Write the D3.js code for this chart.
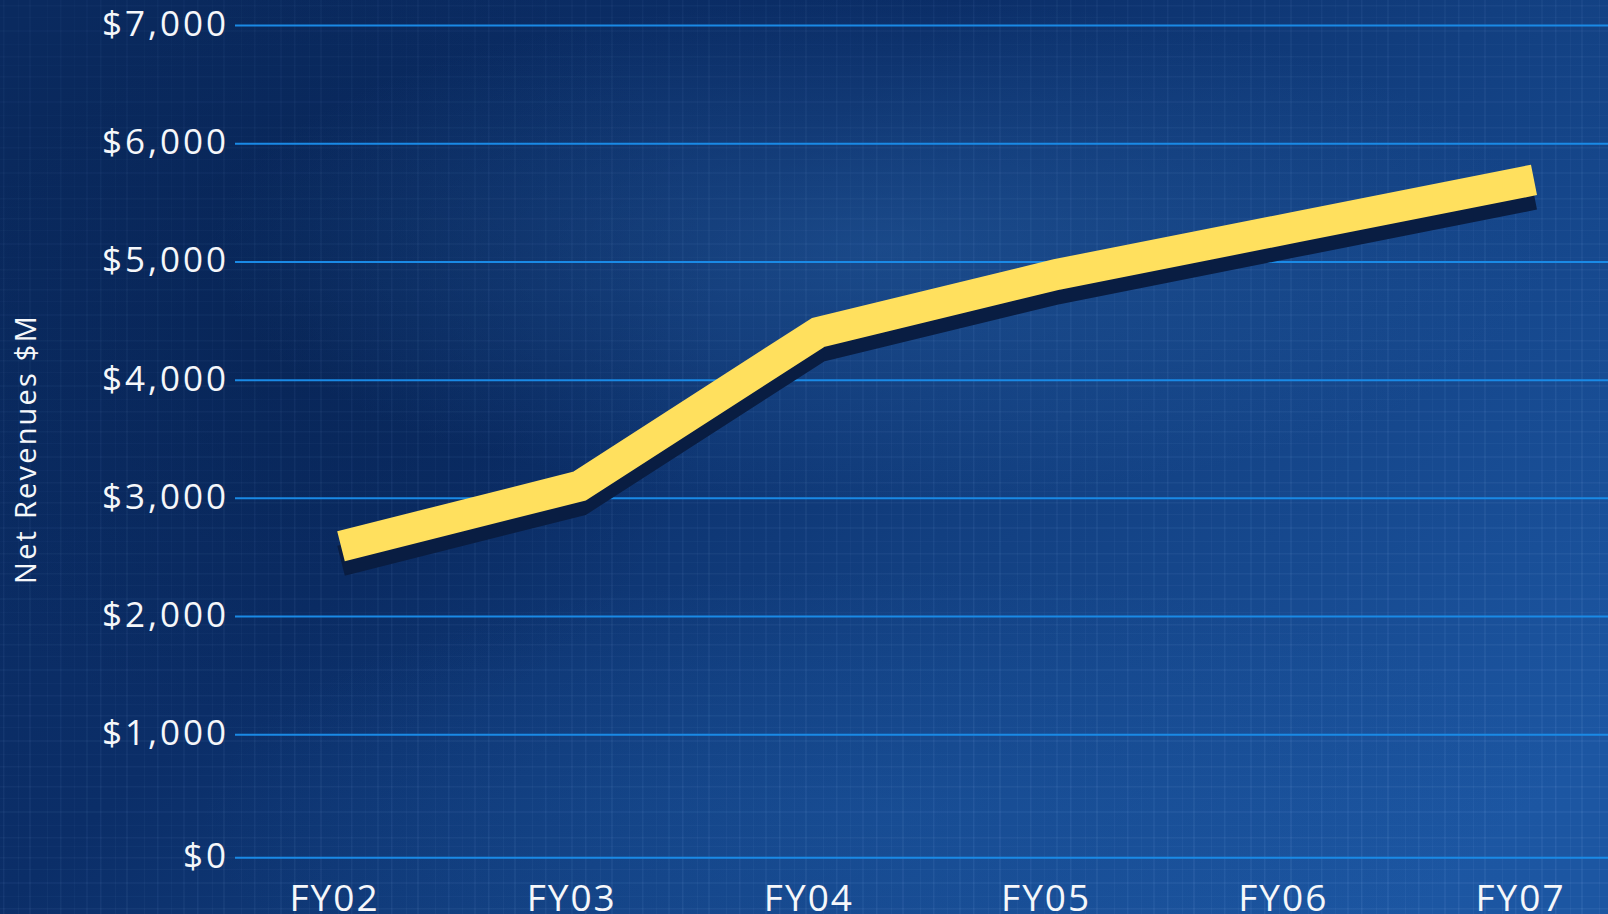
<!DOCTYPE html>
<html>
<head>
<meta charset="utf-8">
<script src="https://cdn.jsdelivr.net/npm/d3@7"></script>
<style>
  html, body { margin: 0; padding: 0; background: #0b2c63; overflow: hidden; }
  svg { display: block; }
</style>
</head>
<body>
<svg id="chart" width="1608" height="914"></svg>
<script>
// ---- data ----
const categories = ["FY02", "FY03", "FY04", "FY05", "FY06", "FY07"];
const revenues = [2590, 3100, 4400, 4890, 5290, 5690];
const yTicks = [0, 1000, 2000, 3000, 4000, 5000, 6000, 7000];
const yTickLabels = ["$0", "$1,000", "$2,000", "$3,000", "$4,000", "$5,000", "$6,000", "$7,000"];
const yTitle = "Net Revenues $M";

// ---- layout ----
const W = 1608, H = 914;
const svg = d3.select("#chart");
const defs = svg.append("defs");

// background gradients
const bgLin = defs.append("linearGradient").attr("id", "bgLin")
  .attr("x1", "0").attr("y1", "0.2").attr("x2", "1").attr("y2", "0.8");
[["0", "#0a2a5f"], ["0.35", "#0b2e68"], ["0.6", "#123f80"], ["1", "#1c56a2"]]
  .forEach(([o, c]) => bgLin.append("stop").attr("offset", o).attr("stop-color", c));

const glow = defs.append("radialGradient").attr("id", "glow")
  .attr("gradientUnits", "userSpaceOnUse")
  .attr("cx", 880).attr("cy", 250).attr("r", 420)
  .attr("gradientTransform", "translate(880,250) scale(1.6,0.6) translate(-880,-250)");
glow.append("stop").attr("offset", "0").attr("stop-color", "#2a64a8").attr("stop-opacity", 0.45);
glow.append("stop").attr("offset", "1").attr("stop-color", "#2a64a8").attr("stop-opacity", 0);

const dark = defs.append("radialGradient").attr("id", "dark")
  .attr("gradientUnits", "userSpaceOnUse")
  .attr("cx", 300).attr("cy", 330).attr("r", 420);
dark.append("stop").attr("offset", "0").attr("stop-color", "#06204d").attr("stop-opacity", 0.55);
dark.append("stop").attr("offset", "1").attr("stop-color", "#06204d").attr("stop-opacity", 0);

const botGlow = defs.append("radialGradient").attr("id", "botGlow")
  .attr("gradientUnits", "userSpaceOnUse")
  .attr("cx", 900).attr("cy", 820).attr("r", 500)
  .attr("gradientTransform", "translate(900,820) scale(1.4,0.5) translate(-900,-820)");
botGlow.append("stop").attr("offset", "0").attr("stop-color", "#1d5aa6").attr("stop-opacity", 0.35);
botGlow.append("stop").attr("offset", "1").attr("stop-color", "#1d5aa6").attr("stop-opacity", 0);

// subtle grid texture
const tex = defs.append("pattern").attr("id", "tex")
  .attr("patternUnits", "userSpaceOnUse").attr("width", 97).attr("height", 71);
const vLines = [[3, 1.5, 0.10], [18, 1, 0.06], [29, 2, 0.08], [47, 1, 0.06], [60, 1.5, 0.09], [74, 1, 0.05], [86, 2, 0.07]];
const hLines = [[5, 1.5, 0.08], [17, 1, 0.06], [30, 2, 0.07], [44, 1, 0.05], [56, 1.5, 0.08], [65, 1, 0.05]];
vLines.forEach(([x, w, o]) => tex.append("rect").attr("x", x).attr("y", 0).attr("width", w).attr("height", 71).attr("fill", "#9fc4ff").attr("opacity", o));
hLines.forEach(([y, h, o]) => tex.append("rect").attr("x", 0).attr("y", y).attr("width", 97).attr("height", h).attr("fill", "#9fc4ff").attr("opacity", o));

const texMaskGrad = defs.append("linearGradient").attr("id", "texMaskGrad")
  .attr("x1", "0").attr("y1", "0").attr("x2", "1").attr("y2", "1");
texMaskGrad.append("stop").attr("offset", "0").attr("stop-color", "#fff").attr("stop-opacity", 0.35);
texMaskGrad.append("stop").attr("offset", "0.5").attr("stop-color", "#fff").attr("stop-opacity", 0.65);
texMaskGrad.append("stop").attr("offset", "1").attr("stop-color", "#fff").attr("stop-opacity", 1);
const texMask = defs.append("mask").attr("id", "texMask");
texMask.append("rect").attr("width", W).attr("height", H).attr("fill", "url(#texMaskGrad)");

// dithered shadow pattern
const sh = defs.append("pattern").attr("id", "shadowPat")
  .attr("patternUnits", "userSpaceOnUse").attr("width", 2).attr("height", 2);
sh.append("rect").attr("width", 2).attr("height", 2).attr("fill", "#0f2d62");
sh.append("rect").attr("x", 0).attr("y", 0).attr("width", 1).attr("height", 1).attr("fill", "#030d22");
sh.append("rect").attr("x", 1).attr("y", 1).attr("width", 1).attr("height", 1).attr("fill", "#030d22");

svg.append("rect").attr("width", W).attr("height", H).attr("fill", "url(#bgLin)");
svg.append("rect").attr("width", W).attr("height", H).attr("fill", "url(#dark)");
svg.append("rect").attr("width", W).attr("height", H).attr("fill", "url(#glow)");
svg.append("rect").attr("width", W).attr("height", H).attr("fill", "url(#botGlow)");
svg.append("rect").attr("width", W).attr("height", H).attr("fill", "url(#tex)").attr("mask", "url(#texMask)");

// ---- scales ----
const plotLeft = 235, plotTop = 25, plotBottom = 852.5, baseOffset = 5.2;
const y = d3.scaleLinear().domain([0, 7000]).range([plotBottom, plotTop]);
const xLine = d3.scalePoint().domain(categories).range([341, 1534]);
const xLabel = d3.scalePoint().domain(categories).range([334, 1520]);

// ---- y axis with gridlines ----
const yAxis = d3.axisLeft(y)
  .tickValues(yTicks)
  .tickFormat((d, i) => yTickLabels[i])
  .tickSizeInner(-(W - plotLeft))
  .tickSizeOuter(0)
  .tickPadding(6);
const gy = svg.append("g").attr("transform", `translate(${plotLeft},0)`).call(yAxis);
gy.select(".domain").remove();
// the baseline ($0) rule sits slightly below the scale's zero in the original
gy.selectAll(".tick").filter(d => d === 0)
  .attr("transform", `translate(0,${y(0) + baseOffset})`);
gy.selectAll(".tick line").attr("stroke", "#1a8ae6").attr("stroke-width", 2);
gy.selectAll(".tick text")
  .attr("fill", "#f5f7fa")
  .attr("font-family", "'Open Sans', 'Noto Sans', sans-serif")
  .attr("font-size", 35)
  .attr("letter-spacing", "3px")
  .attr("dy", "0.3em");

// ---- x axis ----
const xAxis = d3.axisBottom(xLabel).tickSize(0).tickPadding(32);
const gx = svg.append("g").attr("transform", `translate(0,${plotBottom})`).call(xAxis);
gx.select(".domain").remove();
gx.selectAll(".tick text")
  .attr("fill", "#f5f7fa")
  .attr("font-family", "'Open Sans', 'Noto Sans', sans-serif")
  .attr("font-size", 37)
  .attr("letter-spacing", "2px");

// ---- y title ----
svg.append("text")
  .attr("transform", `translate(36,449) rotate(-90)`)
  .attr("text-anchor", "middle")
  .attr("fill", "#f5f7fa")
  .attr("font-family", "'Open Sans', 'Noto Sans', sans-serif")
  .attr("font-size", 29)
  .attr("letter-spacing", "2.2px")
  .text(yTitle);

// ---- line ----
const pts = categories.map((c, i) => ({ c, v: revenues[i] }));
const line = d3.line().x(d => xLine(d.c)).y(d => y(d.v));

svg.append("path").datum(pts)
  .attr("d", line)
  .attr("transform", "translate(0,14.5)")
  .attr("fill", "none")
  .attr("stroke", "url(#shadowPat)")
  .attr("stroke-width", 31)
  .attr("stroke-linejoin", "miter")
  .attr("stroke-linecap", "butt");

svg.append("path").datum(pts)
  .attr("d", line)
  .attr("fill", "none")
  .attr("stroke", "#ffe05e")
  .attr("stroke-width", 31)
  .attr("stroke-linejoin", "miter")
  .attr("stroke-linecap", "butt");
</script>
</body>
</html>
